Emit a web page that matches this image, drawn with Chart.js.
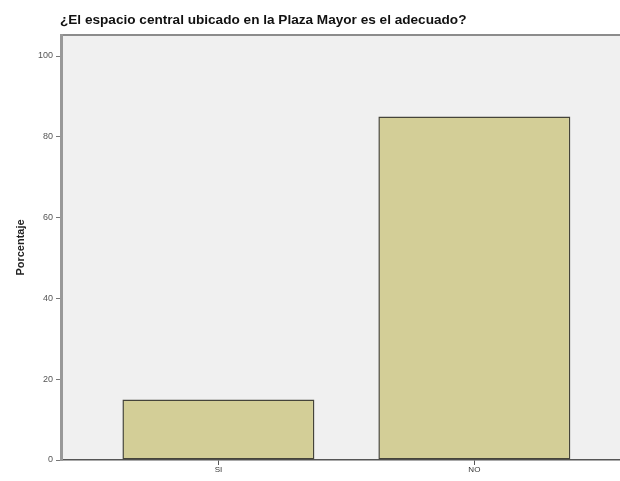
<!DOCTYPE html>
<html>
<head>
<meta charset="utf-8">
<script src="https://cdn.jsdelivr.net/npm/chart.js@4"></script>
<style>
  html, body { margin: 0; padding: 0; background: #fff; overflow: hidden; }
  #wrap { width: 620px; height: 481px; }
</style>
</head>
<body>
<div id="wrap"><canvas id="grafico"></canvas></div>
<script>
// Datos del gráfico
const chartTitle = '¿El espacio central ubicado en la Plaza Mayor es el adecuado?';
const categories = ['SI', 'NO'];
const percentages = [15, 85];
const yTicks = [0, 20, 40, 60, 80, 100];

// Fondo gris del área de trazado y título alineado a la izquierda
const plotBackground = {
  id: 'plotBackground',
  beforeDraw(chart) {
    const { ctx, chartArea: a } = chart;
    ctx.save();
    ctx.fillStyle = '#f0f0f0';
    ctx.fillRect(a.left, a.top, a.right - a.left, a.bottom - a.top);
    ctx.strokeStyle = '#8c8c8c';
    ctx.lineWidth = 2;
    ctx.beginPath();
    ctx.moveTo(a.left, a.top);
    ctx.lineTo(a.right, a.top);
    ctx.stroke();
    ctx.restore();
  },
  afterDraw(chart) {
    const { ctx, chartArea: a } = chart;
    ctx.save();
    ctx.fillStyle = '#111';
    ctx.font = 'bold 13.6px "Liberation Sans", Arial, sans-serif';
    ctx.textBaseline = 'alphabetic';
    ctx.fillText(chartTitle, a.left - 1, a.top - 11);
    ctx.restore();
  }
};

const ctx = document.getElementById('grafico').getContext('2d');
const chart = new Chart(ctx, {
  type: 'bar',
  data: {
    datasets: [{
      label: 'Porcentaje',
      data: categories.map((c, i) => ({ x: i + 1, y: percentages[i] })),
      backgroundColor: '#d3ce97',
      borderColor: '#45443a',
      borderWidth: 1.5,
      borderSkipped: false,
      categoryPercentage: 1,
      barPercentage: 0.75
    }]
  },
  options: {
    responsive: true,
    maintainAspectRatio: false,
    animation: false,
    layout: { padding: { top: 35, left: 0, right: 0, bottom: 0 } },
    plugins: {
      legend: { display: false },
      tooltip: { enabled: false }
    },
    scales: {
      x: {
        type: 'linear',
        offset: false,
        min: 0.385,
        max: 2.569,
        afterBuildTicks: (s) => { s.ticks = categories.map((c, i) => ({ value: i + 1 })); },
        afterFit: (s) => { s.height = 21; },
        ticks: {
          callback: (v) => categories[v - 1],
          color: '#333',
          font: { size: 8, family: '"Liberation Sans", Arial, sans-serif' },
          padding: 0,
          maxRotation: 0,
          autoSkip: false
        },
        grid: { drawOnChartArea: false, offset: false, tickLength: 5, color: '#555' },
        border: { color: '#555', width: 1.5 }
      },
      y: {
        min: 0,
        max: 105.2,
        afterBuildTicks: (s) => { s.ticks = yTicks.map(v => ({ value: v })); },
        afterFit: (s) => { s.width = 61; },
        ticks: {
          color: '#555',
          font: { size: 9, family: '"Liberation Sans", Arial, sans-serif' },
          padding: 3
        },
        grid: { drawOnChartArea: false, tickLength: 5, color: '#777' },
        border: { color: '#999', width: 3 },
        title: {
          display: true,
          text: 'Porcentaje',
          color: '#222',
          font: { size: 11, weight: 'bold', family: '"Liberation Sans", Arial, sans-serif' },
          padding: { top: 14, bottom: 0 }
        }
      }
    }
  },
  plugins: [plotBackground]
});
</script>
</body>
</html>
